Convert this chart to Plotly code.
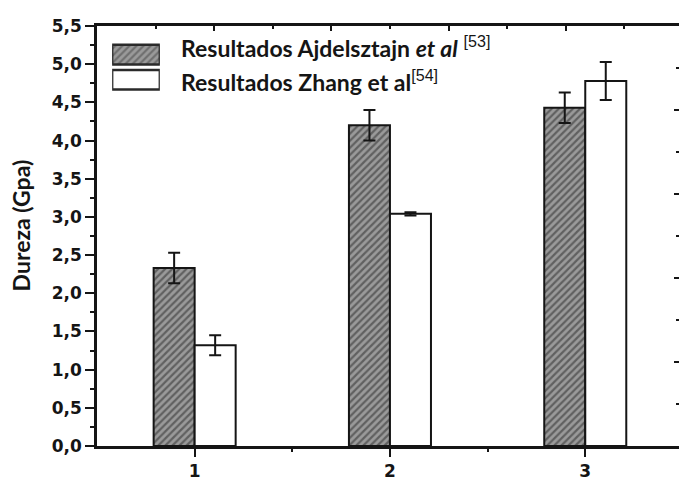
import plotly.graph_objects as go

# Hardness measurements (GPa) for three samples, two literature sources
samples = [1, 2, 3]
ajdelsztajn = [2.33, 4.20, 4.43]
ajdelsztajn_err = [0.20, 0.20, 0.20]
zhang = [1.32, 3.04, 4.78]
zhang_err = [0.13, 0.02, 0.25]

legend_rows = [1, 0]
legend_labels = [
    "<b>Resultados Ajdelsztajn <i>et al</i></b> <sup><span style='font-family:Liberation Sans;font-weight:normal'>[53]</span></sup>",
    "<b>Resultados Zhang et al</b><sup><span style='font-family:Liberation Sans;font-weight:normal'>[54]</span></sup>",
]

INK = "#151515"
HATCH = dict(shape="/", fgcolor="#262626", bgcolor="#9a9a9a", size=5, solidity=0.45)

fig = go.Figure()

fig.add_trace(go.Bar(
    x=samples, y=ajdelsztajn,
    error_y=dict(type="data", array=ajdelsztajn_err, color=INK, thickness=2, width=6),
    marker=dict(color="#9a9a9a", pattern=HATCH, line=dict(color=INK, width=2)),
    showlegend=False,
))
fig.add_trace(go.Bar(
    x=samples, y=zhang,
    error_y=dict(type="data", array=zhang_err, color=INK, thickness=2, width=6),
    marker=dict(color="white", line=dict(color=INK, width=2)),
    showlegend=False,
))

# invisible trace that keeps the secondary (top / right) tick axes alive
fig.add_trace(go.Scatter(x=[0], y=[0], xaxis="x2", yaxis="y2", mode="markers",
                         marker=dict(opacity=0), showlegend=False, hoverinfo="skip"))

# legend swatches drawn as bars on a small inset axis
fig.add_trace(go.Bar(
    x=[1, 1], y=legend_rows, orientation="h", xaxis="x3", yaxis="y3", width=0.78,
    marker=dict(color=["#9a9a9a", "white"],
                pattern=dict(shape=["/", ""], fgcolor="#262626", bgcolor=["#9a9a9a", "white"],
                             size=5, solidity=0.45),
                line=dict(color="#2a2a2a", width=2.5)),
    showlegend=False, hoverinfo="skip",
))

tick_font = dict(family="DejaVu Sans", size=17, color=INK, weight="bold")

fig.update_layout(
    width=679, height=481,
    margin=dict(l=97, r=0, t=26, b=31),
    paper_bgcolor="white", plot_bgcolor="white",
    separators=",.",
    barmode="group", bargap=0.58, bargroupgap=0,
    showlegend=False,
    xaxis=dict(
        range=[0.5, 3.48], tickmode="array", tickvals=samples, ticktext=[str(s) for s in samples],
        showline=True, linecolor=INK, linewidth=2.5, showgrid=False, zeroline=False,
        ticks="outside", ticklen=8, tickwidth=2, tickcolor=INK, tickfont=tick_font,
        minor=dict(tickvals=[1.5, 2.5], ticks="outside", ticklen=3, tickwidth=2, tickcolor=INK),
    ),
    yaxis=dict(
        range=[0, 5.5], dtick=0.5, tickformat=".1f",
        showline=True, linecolor=INK, linewidth=2.5, showgrid=False, zeroline=False,
        ticks="outside", ticklen=9, tickwidth=2, tickcolor=INK, tickfont=tick_font,
        minor=dict(dtick=0.25, ticks="outside", ticklen=4, tickwidth=2, tickcolor=INK),
    ),
    xaxis2=dict(
        overlaying="x", side="top", range=[0, 9.93], dtick=2,
        showline=True, linecolor=INK, linewidth=2.5, showgrid=False, zeroline=False,
        ticks="inside", ticklen=5, tickwidth=2, tickcolor=INK, showticklabels=False,
        minor=dict(dtick=1, ticks="inside", ticklen=3, tickwidth=2, tickcolor=INK),
    ),
    yaxis2=dict(
        overlaying="y", side="right", range=[0, 10], dtick=2,
        showline=False, showgrid=False, zeroline=False,
        ticks="inside", ticklen=5, tickwidth=2, tickcolor=INK, showticklabels=False,
        minor=dict(dtick=1, ticks="inside", ticklen=3, tickwidth=2, tickcolor=INK),
    ),
    xaxis3=dict(domain=[0.026, 0.108], anchor="y3", range=[0, 1], visible=False),
    yaxis3=dict(domain=[0.842, 0.962], anchor="x3", range=[-0.5, 1.5], visible=False),
)

# legend labels next to the swatches
for row, label, ypos in zip(legend_rows, legend_labels, [0.949, 0.868]):
    fig.add_annotation(
        text=label, xref="paper", yref="paper", x=0.141, y=ypos,
        xanchor="left", yanchor="middle", showarrow=False,
        font=dict(family="Lato", size=23, color=INK),
    )

# y-axis title
fig.add_annotation(
    text="<b>Dureza (Gpa)</b>", xref="paper", yref="paper", x=-0.13, y=0.526,
    xanchor="center", yanchor="middle", textangle=-90, showarrow=False,
    font=dict(family="Lato", size=23, color=INK),
)

fig.write_html("out.html")
